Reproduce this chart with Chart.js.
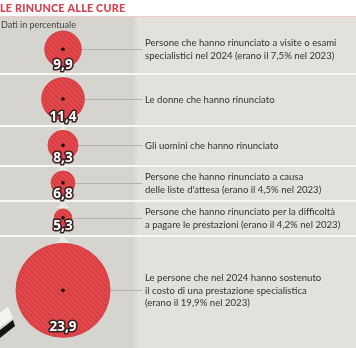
<!DOCTYPE html>
<html>
<head>
<meta charset="utf-8">
<script src="https://cdn.jsdelivr.net/npm/chart.js@4"></script>
<style>
  html, body { margin: 0; padding: 0; background: #ffffff; }
  #wrap { width: 356px; height: 348px; }
</style>
</head>
<body>
<div id="wrap"><canvas id="chart" width="356" height="348"></canvas></div>
<script>
// data
var title = "LE RINUNCE ALLE CURE";
var subtitle = "Dati in percentuale";
var values = [9.9, 11.4, 8.3, 6.8, 5.3, 23.9];
var valueLabels = ["9,9", "11,4", "8,3", "6,8", "5,3", "23,9"];
var descriptions = [
  ["Persone che hanno rinunciato a visite o esami", "specialistici nel 2024 (erano il 7,5% nel 2023)"],
  ["Le donne che hanno rinunciato"],
  ["Gli uomini che hanno rinunciato"],
  ["Persone che hanno rinunciato a causa", "delle liste d'attesa (erano il 4,5% nel 2023)"],
  ["Persone che hanno rinunciato per la difficoltà", "a pagare le prestazioni (erano il 4,2% nel 2023)"],
  ["Le persone che nel 2024 hanno sostenuto", "il costo di una prestazione specialistica", "(erano il 19,9% nel 2023)"]
];

// layout
var W = 356, H = 348;
var PANEL_TOP = 17;
var SUB_H = 10;
var LEFT_W = 134;
var TEXT_X = 145;
var FONT = "Lato, 'Open Sans', sans-serif";

function radiusOf(v) { return v * 2.05 - 2; }

// row edges come from the bubble sizes
var rowTop = [], rowH = [], rowY = [];
(function () {
  var y = PANEL_TOP + SUB_H;
  for (var i = 0; i < values.length; i++) {
    var h = Math.max(2 * radiusOf(values[i]) + 10, 35);
    rowTop.push(i === 0 ? PANEL_TOP : y);
    rowH.push(h);
    rowY.push(y + h / 2 + (i === values.length - 1 ? 2 : -1));
    y += h;
  }
})();

// hatched red fill
function hatch() {
  var c = document.createElement("canvas");
  c.width = 5; c.height = 5;
  var g = c.getContext("2d");
  g.fillStyle = "#e2474c";
  g.fillRect(0, 0, 5, 5);
  g.strokeStyle = "rgba(170,30,40,0.4)";
  g.lineWidth = 1;
  g.beginPath();
  g.moveTo(-1, -1); g.lineTo(6, 6);
  g.moveTo(-1, 4); g.lineTo(1, 6);
  g.moveTo(4, -1); g.lineTo(6, 1);
  g.stroke();
  return g.createPattern(c, "repeat");
}

var backdrop = {
  id: "backdrop",
  beforeDraw: function (chart) {
    var ctx = chart.ctx;
    ctx.save();
    ctx.fillStyle = "#ffffff";
    ctx.fillRect(0, 0, W, H);
    ctx.fillStyle = "#e2e1db";
    ctx.fillRect(0, PANEL_TOP, W, H - PANEL_TOP);
    ctx.fillStyle = "#d5d4ce";
    ctx.fillRect(0, PANEL_TOP, LEFT_W, H - PANEL_TOP);
    ctx.fillStyle = "#dcdbd5";
    ctx.fillRect(LEFT_W, PANEL_TOP, 3, H - PANEL_TOP);
    ctx.fillStyle = "#f2caca";
    ctx.fillRect(0, PANEL_TOP - 1, W, 1);

    // title + subtitle
    ctx.fillStyle = "#d8404c";
    ctx.font = "900 10.8px " + FONT;
    ctx.textBaseline = "alphabetic";
    ctx.textAlign = "left";
    if ("letterSpacing" in ctx) ctx.letterSpacing = "0.2px";
    ctx.fillText(title, 0, 12);
    if ("letterSpacing" in ctx) ctx.letterSpacing = "0px";
    ctx.fillStyle = "#444444";
    ctx.font = "9px " + FONT;
    ctx.fillText(subtitle, 1, 28);

    var xs = chart.scales.x, ys = chart.scales.y;
    var cx = xs.getPixelForValue(0);

    // separators with small wedges
    for (var i = 1; i < values.length; i++) {
      var ly = Math.round(ys.getPixelForValue(rowTop[i]));
      ctx.fillStyle = "rgba(240,240,236,0.7)";
      ctx.beginPath();
      ctx.moveTo(cx, ly); ctx.lineTo(cx - 7, ly - 7); ctx.lineTo(cx + 7, ly - 7); ctx.closePath();
      ctx.moveTo(cx, ly); ctx.lineTo(cx - 7, ly + 7); ctx.lineTo(cx + 7, ly + 7); ctx.closePath();
      ctx.fill();
      ctx.fillStyle = "#f7f7f4";
      ctx.fillRect(0, ly - 1, W, 2);
    }

    // connectors and descriptions
    ctx.font = "9.6px " + FONT;
    ctx.textBaseline = "middle";
    for (var j = 0; j < values.length; j++) {
      var py = Math.round(ys.getPixelForValue(rowY[j])) + 0.5;
      ctx.strokeStyle = "#b3b2ac";
      ctx.lineWidth = 1;
      ctx.beginPath();
      ctx.moveTo(cx, py); ctx.lineTo(TEXT_X - 3, py);
      ctx.stroke();
      var lines = descriptions[j];
      var lh = 12.5;
      var y0 = py - (lines.length - 1) * lh / 2;
      ctx.fillStyle = "#333333";
      for (var k = 0; k < lines.length; k++) {
        ctx.fillText(lines[k], TEXT_X, y0 + k * lh);
      }
    }

    // little object at the bottom left
    ctx.fillStyle = "#f4f4f2";
    ctx.beginPath();
    ctx.moveTo(0, 313); ctx.lineTo(8, 307); ctx.lineTo(13, 318); ctx.lineTo(0, 327); ctx.closePath();
    ctx.fill();
    ctx.fillStyle = "#141414";
    ctx.beginPath();
    ctx.moveTo(0, 330); ctx.lineTo(13, 320); ctx.lineTo(15, 326); ctx.lineTo(0, 338); ctx.closePath();
    ctx.fill();
    ctx.restore();
  },
  afterDatasetsDraw: function (chart) {
    var ctx = chart.ctx;
    var meta = chart.getDatasetMeta(0);
    ctx.save();
    meta.data.forEach(function (el, i) {
      var r = radiusOf(values[i]);
      ctx.fillStyle = "#1a0a0a";
      ctx.beginPath();
      ctx.arc(el.x, el.y, 1.8, 0, Math.PI * 2);
      ctx.fill();
      var ty = Math.min(el.y + 0.75 * r + 2, 338);
      ctx.font = "bold 13.5px 'Open Sans', sans-serif";
      ctx.textAlign = "center";
      ctx.textBaseline = "middle";
      ctx.lineJoin = "round";
      ctx.strokeStyle = "#3b2222";
      ctx.lineWidth = 3.2;
      ctx.strokeText(valueLabels[i], el.x, ty);
      ctx.fillStyle = "#ffffff";
      ctx.fillText(valueLabels[i], el.x, ty);
    });
    ctx.restore();
  }
};

var points = values.map(function (v, i) {
  return { x: 0, y: rowY[i], r: radiusOf(v) };
});

new Chart(document.getElementById("chart"), {
  type: "bubble",
  data: {
    datasets: [{
      data: points,
      backgroundColor: hatch(),
      borderColor: "#d33a41",
      borderWidth: 0.8,
      clip: false
    }]
  },
  options: {
    responsive: false,
    animation: false,
    devicePixelRatio: 1,
    layout: { autoPadding: false, padding: { left: 0, right: W - 126, top: 0, bottom: 0 } },
    plugins: { legend: { display: false }, tooltip: { enabled: false } },
    scales: {
      x: { type: "linear", min: -1, max: 1, display: false },
      y: { type: "linear", min: 0, max: H, reverse: true, display: false }
    }
  },
  plugins: [backdrop]
});
</script>
</body>
</html>
